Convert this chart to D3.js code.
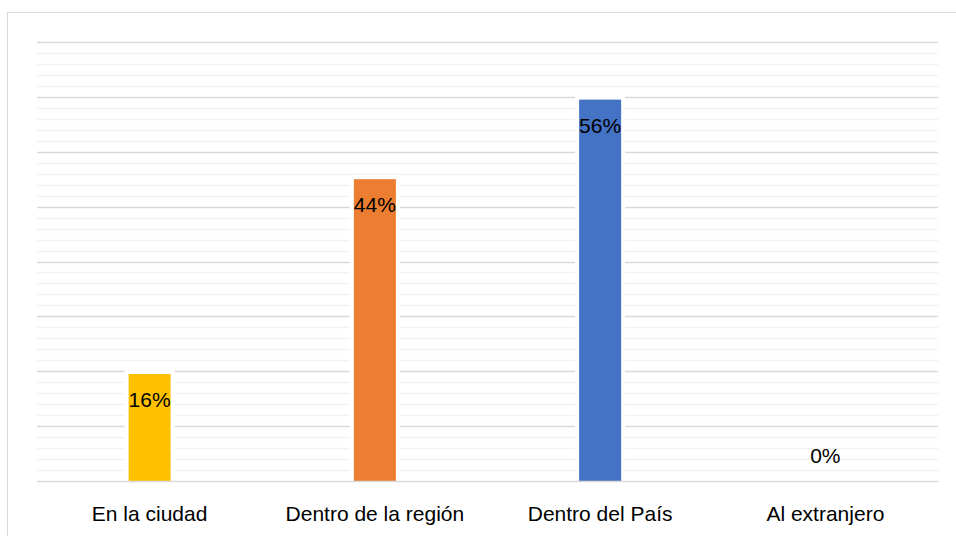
<!DOCTYPE html>
<html>
<head>
<meta charset="utf-8">
<script src="https://cdn.jsdelivr.net/npm/d3@7"></script>
<style>
  html, body { margin: 0; padding: 0; background: #fff; }
  svg { display: block; }
</style>
</head>
<body>
<svg id="chart" width="956" height="536"></svg>
<script>
const categories = ["En la ciudad", "Dentro de la región", "Dentro del País", "Al extranjero"];
const values = [15.6, 44.0, 55.6, 0];
const colors = ["#FFC000", "#ED7D31", "#4472C4", "#A5A5A5"];
const majorTicks = [0, 8, 16, 24, 32, 40, 48, 56, 64];
const minorTicks = d3.range(0, 64.01, 1.6);

(function () {
const svg = d3.select("#chart");
const W = 956, H = 536;
const plotLeft = 37, plotRight = 938, plotTop = 42, plotBottom = 481;

// outer chart border
svg.append("rect")
  .attr("x", 7.5).attr("y", 12.5)
  .attr("width", W + 10).attr("height", H + 10)
  .attr("fill", "#fff").attr("stroke", "#d9d9d9").attr("stroke-width", 1);

const x = d3.scaleBand().domain(categories).range([plotLeft, plotRight])
  .paddingInner(0.8135).paddingOuter(0.8135 / 2);
const y = d3.scaleLinear().domain([0, 64]).range([plotBottom, plotTop]);

// minor gridlines
svg.append("g").selectAll("line")
  .data(minorTicks.filter(t => !majorTicks.some(m => Math.abs(m - t) < 1e-6)))
  .join("line")
  .attr("x1", plotLeft).attr("x2", plotRight)
  .attr("y1", d => Math.round(y(d)) + 0.5).attr("y2", d => Math.round(y(d)) + 0.5)
  .attr("stroke", "#f2f2f2").attr("stroke-width", 1.3);

// major gridlines
svg.append("g").selectAll("line")
  .data(majorTicks.filter(t => t > 0))
  .join("line")
  .attr("x1", plotLeft).attr("x2", plotRight)
  .attr("y1", d => Math.round(y(d)) + 0.5).attr("y2", d => Math.round(y(d)) + 0.5)
  .attr("stroke", "#d9d9d9").attr("stroke-width", 1.3);

// bars
const data = categories.map((c, i) => ({ c, v: values[i], color: colors[i] }));
svg.append("g").selectAll("rect")
  .data(data.filter(d => d.v > 0))
  .join("rect")
  .attr("x", d => x(d.c))
  .attr("y", d => y(d.v))
  .attr("width", x.bandwidth())
  .attr("height", d => y(0) - y(d.v))
  .attr("fill", d => d.color)
  .attr("stroke", "#fff")
  .attr("stroke-width", 8)
  .attr("paint-order", "stroke");

// x axis line
svg.append("line")
  .attr("x1", plotLeft).attr("x2", plotRight)
  .attr("y1", plotBottom + 0.5).attr("y2", plotBottom + 0.5)
  .attr("stroke", "#d9d9d9").attr("stroke-width", 1.5);

const font = "'Liberation Sans', Arial, sans-serif";
const fmt = d3.format(".0f");

// data labels
svg.append("g").selectAll("text")
  .data(data)
  .join("text")
  .attr("x", d => x(d.c) + x.bandwidth() / 2)
  .attr("y", d => d.v > 0 ? y(d.v) + 33 : y(0) - 18)
  .attr("text-anchor", "middle")
  .attr("font-family", font)
  .attr("font-size", 21)
  .attr("fill", "#000")
  .text(d => fmt(d.v) + "%");

// category labels
svg.append("g").selectAll("text")
  .data(categories)
  .join("text")
  .attr("x", d => x(d) + x.bandwidth() / 2)
  .attr("y", 521)
  .attr("text-anchor", "middle")
  .attr("font-family", font)
  .attr("font-size", 21)
  .attr("fill", "#000")
  .text(d => d);
})();
</script>
</body>
</html>
